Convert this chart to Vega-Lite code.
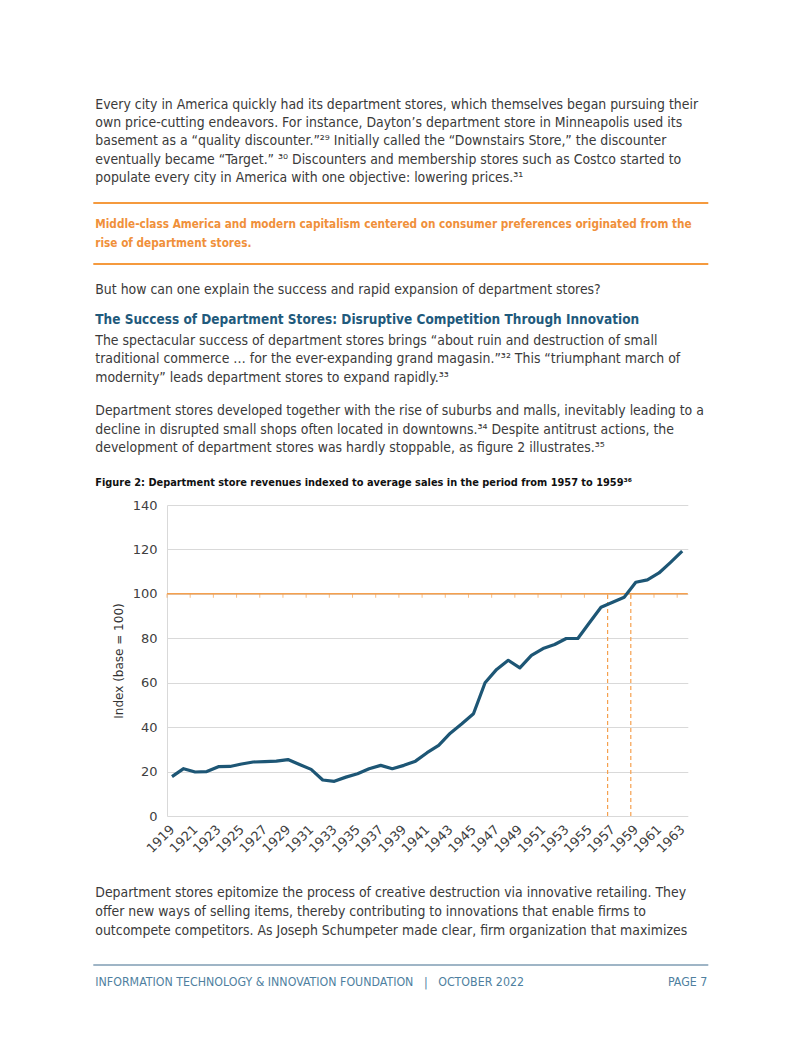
{
  "$schema": "https://vega.github.io/schema/vega-lite/v6.json",
  "background": "white",
  "padding": {"left": 92, "top": 90, "right": 94, "bottom": 10},
  "bounds": "flush",
  "spacing": 0,
  "config": {
    "view": {"stroke": null},
    "text": {"font": "Liberation Sans Narrow, DejaVu Sans Condensed, sans-serif"}
  },
  "datasets": {
    "topText": [
      {"row": 0, "kind": "body", "text": "Every city in America quickly had its department stores, which themselves began pursuing their"},
      {"row": 1, "kind": "body", "text": "own price-cutting endeavors. For instance, Dayton’s department store in Minneapolis used its"},
      {"row": 2, "kind": "body", "text": "basement as a “quality discounter.”²⁹ Initially called the “Downstairs Store,” the discounter"},
      {"row": 3, "kind": "body", "text": "eventually became “Target.” ³⁰ Discounters and membership stores such as Costco started to"},
      {"row": 4, "kind": "body", "text": "populate every city in America with one objective: lowering prices.³¹"},
      {"row": 6.46, "kind": "callout", "text": "Middle-class America and modern capitalism centered on consumer preferences originated from the"},
      {"row": 7.49, "kind": "callout", "text": "rise of department stores."},
      {"row": 10.03, "kind": "body", "text": "But how can one explain the success and rapid expansion of department stores?"},
      {"row": 11.65, "kind": "heading", "text": "The Success of Department Stores: Disruptive Competition Through Innovation"},
      {"row": 12.78, "kind": "body", "text": "The spectacular success of department stores brings “about ruin and destruction of small"},
      {"row": 13.78, "kind": "body", "text": "traditional commerce … for the ever-expanding grand magasin.”³² This “triumphant march of"},
      {"row": 14.78, "kind": "body", "text": "modernity” leads department stores to expand rapidly.³³"},
      {"row": 16.57, "kind": "body", "text": "Department stores developed together with the rise of suburbs and malls, inevitably leading to a"},
      {"row": 17.57, "kind": "body", "text": "decline in disrupted small shops often located in downtowns.³⁴ Despite antitrust actions, the"},
      {"row": 18.57, "kind": "body", "text": "development of department stores was hardly stoppable, as figure 2 illustrates.³⁵"},
      {"row": 20.46, "kind": "figtitle", "text": "Figure 2: Department store revenues indexed to average sales in the period from 1957 to 1959³⁶"}
    ],
    "topRules": [{"row": 5.32}, {"row": 8.62}],
    "bottomText": [
      {"row": 0, "kind": "body", "text": "Department stores epitomize the process of creative destruction via innovative retailing. They"},
      {"row": 1.03, "kind": "body", "text": "offer new ways of selling items, thereby contributing to innovations that enable firms to"},
      {"row": 2.05, "kind": "body", "text": "outcompete competitors. As Joseph Schumpeter made clear, firm organization that maximizes"},
      {"row": 4.81, "kind": "footer", "text": "INFORMATION TECHNOLOGY & INNOVATION FOUNDATION \u00a0\u00a0|\u00a0\u00a0 OCTOBER 2022"},
      {"row": 4.81, "kind": "page", "text": "PAGE 7"}
    ],
    "bottomRules": [{"row": 3.89}],
    "sales": [
      {"year": 1919, "index": 17.7}, {"year": 1920, "index": 21.3}, {"year": 1921, "index": 19.8},
      {"year": 1922, "index": 20.0}, {"year": 1923, "index": 22.2}, {"year": 1924, "index": 22.3},
      {"year": 1925, "index": 23.4}, {"year": 1926, "index": 24.3}, {"year": 1927, "index": 24.5},
      {"year": 1928, "index": 24.7}, {"year": 1929, "index": 25.4}, {"year": 1930, "index": 23.2},
      {"year": 1931, "index": 21.0}, {"year": 1932, "index": 16.2}, {"year": 1933, "index": 15.6},
      {"year": 1934, "index": 17.5}, {"year": 1935, "index": 19.0}, {"year": 1936, "index": 21.3},
      {"year": 1937, "index": 22.8}, {"year": 1938, "index": 21.3}, {"year": 1939, "index": 22.8},
      {"year": 1940, "index": 24.7}, {"year": 1941, "index": 28.5}, {"year": 1942, "index": 31.8},
      {"year": 1943, "index": 37.3}, {"year": 1944, "index": 41.5}, {"year": 1945, "index": 46.0},
      {"year": 1946, "index": 60.0}, {"year": 1947, "index": 66.0}, {"year": 1948, "index": 70.1},
      {"year": 1949, "index": 66.7}, {"year": 1950, "index": 72.3}, {"year": 1951, "index": 75.4},
      {"year": 1952, "index": 77.2}, {"year": 1953, "index": 79.9}, {"year": 1954, "index": 79.9},
      {"year": 1955, "index": 87.0}, {"year": 1956, "index": 94.0}, {"year": 1957, "index": 96.2},
      {"year": 1958, "index": 98.5}, {"year": 1959, "index": 105.2}, {"year": 1960, "index": 106.3},
      {"year": 1961, "index": 109.4}, {"year": 1962, "index": 114.2}, {"year": 1963, "index": 119.2}
    ],
    "baseTicks": [
      {"year": 1919, "index": 100}, {"year": 1921, "index": 100}, {"year": 1923, "index": 100},
      {"year": 1925, "index": 100}, {"year": 1927, "index": 100}, {"year": 1929, "index": 100},
      {"year": 1931, "index": 100}, {"year": 1933, "index": 100}, {"year": 1935, "index": 100},
      {"year": 1937, "index": 100}, {"year": 1939, "index": 100}, {"year": 1941, "index": 100},
      {"year": 1943, "index": 100}, {"year": 1945, "index": 100}, {"year": 1947, "index": 100},
      {"year": 1949, "index": 100}, {"year": 1951, "index": 100}, {"year": 1953, "index": 100},
      {"year": 1955, "index": 100}, {"year": 1957, "index": 100}, {"year": 1959, "index": 100},
      {"year": 1961, "index": 100}, {"year": 1963, "index": 100}
    ],
    "basePeriod": [{"year": 1957, "from": 0, "to": 100}, {"year": 1959, "from": 0, "to": 100}]
  },
  "vconcat": [
    {
      "width": 541.3,
      "height": 415,
      "encoding": {
        "y": {"field": "row", "type": "quantitative", "axis": null,
              "scale": {"domain": [-0.7838, 21.649], "reverse": true, "nice": false, "zero": false}},
        "x": {"datum": 0, "type": "quantitative", "axis": null, "scale": {"domain": [0, 1], "range": [-73.7, 541.3], "nice": false}}
      },
      "layer": [
        {
          "data": {"name": "topRules"},
          "mark": {"type": "rule", "color": "#f59a3e", "strokeWidth": 2},
          "encoding": {"x2": {"datum": 1}}
        },
        {
          "data": {"name": "topText"},
          "transform": [{"filter": "datum.kind === 'body'"}],
          "mark": {"type": "text", "align": "left", "baseline": "middle", "dx": 2, "fontSize": 13.9, "color": "#3a3a3a"},
          "encoding": {"text": {"field": "text"}}
        },
        {
          "data": {"name": "topText"},
          "transform": [{"filter": "datum.kind === 'callout'"}],
          "mark": {"type": "text", "align": "left", "baseline": "middle", "dx": 2, "fontSize": 11.7, "fontWeight": "bold", "color": "#f0903a"},
          "encoding": {"text": {"field": "text"}}
        },
        {
          "data": {"name": "topText"},
          "transform": [{"filter": "datum.kind === 'heading'"}],
          "mark": {"type": "text", "align": "left", "baseline": "middle", "dx": 2, "fontSize": 13.5, "fontWeight": "bold", "color": "#1f5a7c"},
          "encoding": {"text": {"field": "text"}}
        },
        {
          "data": {"name": "topText"},
          "transform": [{"filter": "datum.kind === 'figtitle'"}],
          "mark": {"type": "text", "align": "left", "baseline": "middle", "dx": 2, "fontSize": 10.9, "fontWeight": "bold", "color": "#111111"},
          "encoding": {"text": {"field": "text"}}
        }
      ]
    },
    {
      "width": 520.8,
      "height": 311,
      "encoding": {
        "x": {"field": "year", "type": "quantitative",
              "scale": {"domain": [1918.569, 1963.485], "nice": false, "zero": false},
              "axis": {"values": [1919, 1921, 1923, 1925, 1927, 1929, 1931, 1933, 1935, 1937, 1939, 1941, 1943, 1945, 1947, 1949, 1951, 1953, 1955, 1957, 1959, 1961, 1963],
                       "format": "d", "title": null, "grid": false, "ticks": false, "domain": false,
                       "labelAngle": -45, "labelAlign": "right", "labelBaseline": "middle", "labelPadding": 11,
                       "labelFont": "DejaVu Sans", "labelFontSize": 13, "labelColor": "#404040", "labelOverlap": false}},
        "y": {"field": "index", "type": "quantitative",
              "scale": {"domain": [0, 140], "nice": false},
              "axis": {"values": [0, 20, 40, 60, 80, 100, 120, 140], "title": "Index (base = 100)",
                       "grid": true, "gridColor": "#d9d9d9", "gridWidth": 1,
                       "ticks": false, "domain": true, "domainColor": "#d9d9d9",
                       "labelFont": "DejaVu Sans", "labelFontSize": 13, "labelColor": "#404040", "labelPadding": 10,
                       "titleFont": "DejaVu Sans", "titleFontSize": 12, "titleFontWeight": "normal", "titleColor": "#333333", "titlePadding": 7}}
      },
      "layer": [
        {
          "data": {"name": "basePeriod"},
          "mark": {"type": "rule", "color": "#f5a04e", "strokeWidth": 1.2, "strokeDash": [4, 3], "xOffset": -5},
          "encoding": {"y": {"field": "from", "type": "quantitative"}, "y2": {"field": "to"}}
        },
        {
          "data": {"values": [{"index": 100}]},
          "mark": {"type": "rule", "color": "#f5a04e", "strokeWidth": 1.5},
          "encoding": {"x": null}
        },
        {
          "data": {"name": "baseTicks"},
          "mark": {"type": "tick", "orient": "vertical", "color": "#f5a04e", "size": 4, "thickness": 1, "yOffset": 2, "xOffset": -5},
          "encoding": {}
        },
        {
          "data": {"name": "sales"},
          "mark": {"type": "line", "color": "#1d5675", "strokeWidth": 3.2, "strokeJoin": "round"},
          "encoding": {}
        }
      ]
    },
    {
      "width": 541.3,
      "height": 184,
      "encoding": {
        "y": {"field": "row", "type": "quantitative", "axis": null,
              "scale": {"domain": [-4.162, 5.784], "reverse": true, "nice": false, "zero": false}},
        "x": {"datum": 0, "type": "quantitative", "axis": null, "scale": {"domain": [0, 1], "range": [-73.7, 541.3], "nice": false}}
      },
      "layer": [
        {
          "data": {"name": "bottomRules"},
          "mark": {"type": "rule", "color": "#7f9db3", "strokeWidth": 1.5},
          "encoding": {"x2": {"datum": 1}}
        },
        {
          "data": {"name": "bottomText"},
          "transform": [{"filter": "datum.kind === 'body'"}],
          "mark": {"type": "text", "align": "left", "baseline": "middle", "dx": 2, "fontSize": 13.9, "color": "#3a3a3a"},
          "encoding": {"text": {"field": "text"}}
        },
        {
          "data": {"name": "bottomText"},
          "transform": [{"filter": "datum.kind === 'footer'"}],
          "mark": {"type": "text", "align": "left", "baseline": "middle", "dx": 2, "fontSize": 12.3, "color": "#4f7fa0"},
          "encoding": {"text": {"field": "text"}}
        },
        {
          "data": {"name": "bottomText"},
          "transform": [{"filter": "datum.kind === 'page'"}],
          "mark": {"type": "text", "align": "right", "baseline": "middle", "dx": -1, "fontSize": 12.3, "color": "#4f7fa0"},
          "encoding": {"text": {"field": "text"}, "x": {"datum": 1}}
        }
      ]
    }
  ]
}
